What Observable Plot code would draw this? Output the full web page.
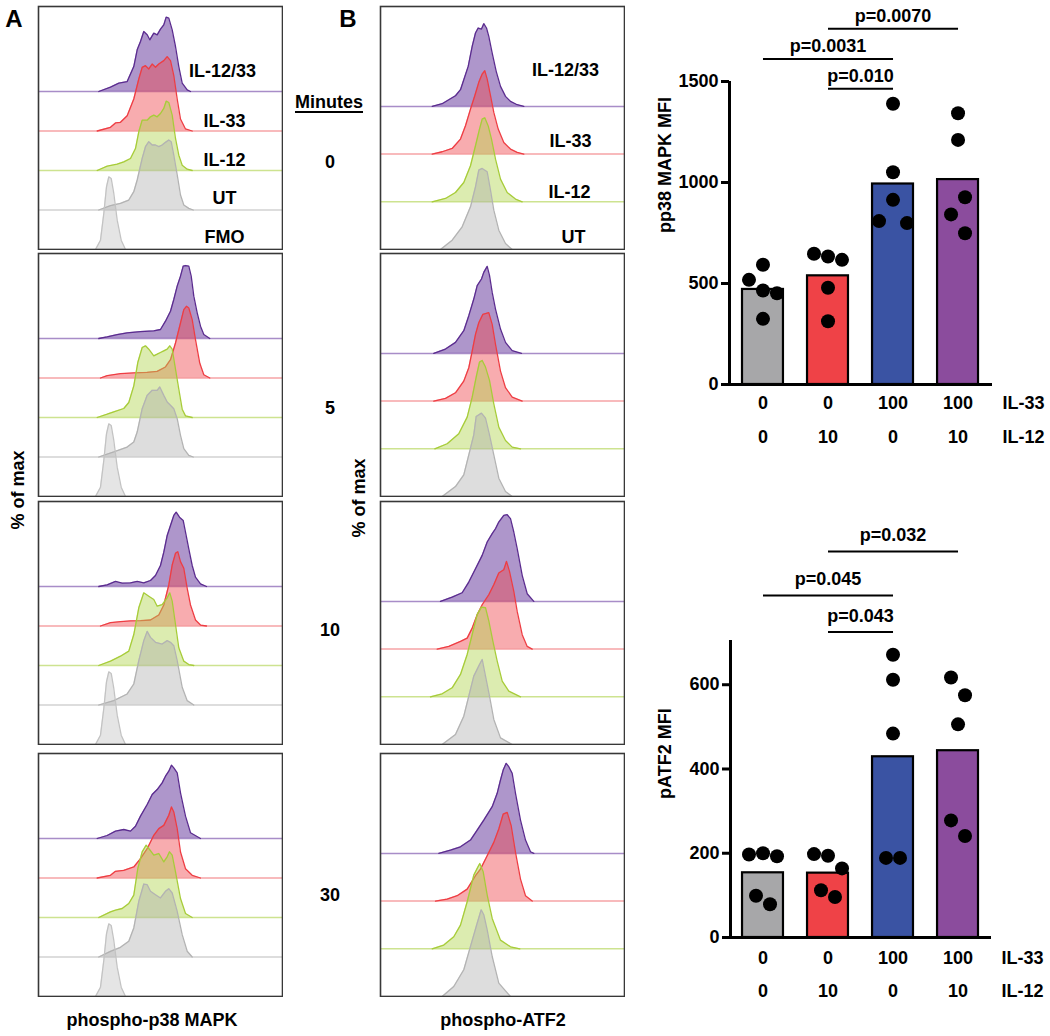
<!DOCTYPE html>
<html><head><meta charset="utf-8">
<script src="https://cdn.jsdelivr.net/npm/d3@7"></script>
<script src="https://cdn.jsdelivr.net/npm/@observablehq/plot@0.6"></script>
<style>
body{margin:0;background:#fff;}
#fig{position:relative;width:1050px;height:1036px;font-family:"Liberation Sans",Arial,sans-serif;font-weight:bold;color:#000;overflow:hidden;background:#fff}
#fig svg{position:absolute}
.lbl{position:absolute;font-size:18px;line-height:1;white-space:nowrap;transform:translate(-50%,-50%)}
.barplot g[aria-label^="y-axis"] path,.barplot g[aria-label^="y-axis"] line{stroke-width:3px}
</style></head><body><div id="fig"></div><script>
// ---------- Histogram data: [channel, % of max] ----------
const fmo = [[57,0],[62,12.4],[65.3,48],[68,83.6],[70.3,96.9],[72.7,94.7],[75.3,74.7],[78.7,39.1],[82.7,12.4],[87,0]];
// phospho-p38 MAPK, 0 min
const a0_il1233 = [[60.3,0],[72,5.8],[80.3,11.1],[88.7,13.3],[95.3,33.3],[98.7,55.6],[102,66.7],[105.3,80],[108.7,75.6],[111.3,68.9],[115.3,77.8],[118.7,75.6],[122,83.1],[125.3,88.9],[127.7,99.1],[130.3,97.8],[133.7,82.2],[137,60],[140.3,33.3],[143.7,11.1],[148.7,2.2],[152,0]];
const a0_il33 = [[58.7,0],[72,4.9],[77,10.7],[82,11.6],[88.7,20.4],[95.3,42.7],[100.3,69.3],[103.7,84.9],[107,87.1],[110.3,82.7],[113.7,89.3],[117,84.9],[120.3,89.3],[125.3,93.8],[128.7,99.1],[132,93.8],[135.3,73.8],[138.7,42.7],[142,16],[147,2.7],[153.7,0]];
const a0_il12 = [[58.7,0],[68.7,5.8],[78.7,8.4],[85.3,11.6],[92,16],[97,29.3],[100.3,51.6],[103.7,67.1],[108.7,67.1],[112,71.6],[115.3,73.8],[118.7,71.6],[122,76],[125.3,82.7],[127.7,92.4],[130.3,90.7],[133.7,73.8],[137,42.7],[140.3,20.4],[143.7,7.1],[148.7,1.8],[153.7,0]];
const a0_ut = [[60.3,0],[72,5.8],[82,8.9],[90.3,13.3],[95.3,24.4],[98.7,40],[103.7,68.9],[107,84.4],[110.3,91.1],[113.7,86.7],[117,86.7],[120.3,84.4],[123.7,86.7],[127,90.2],[130.3,93.3],[132.7,91.1],[135.3,73.3],[138.7,46.7],[142,20],[145.3,6.7],[150.3,2.2],[154.7,0]];
// 5 min
const a5_il1233 = [[60.3,0],[68.7,2.2],[78.7,5.3],[88.7,7.6],[102,9.3],[115.3,10.2],[122,12],[127,23.1],[132,36.4],[135.3,52],[138.7,69.8],[142,83.1],[144.7,96.4],[147,97.3],[150.3,96.4],[152.7,83.1],[155.3,56.4],[158.7,34.2],[162,16.4],[165.3,5.3],[171.3,0]];
const a5_il33 = [[62,0],[68.7,3.1],[82,5.8],[95.3,6.7],[108.7,7.6],[118.7,8.9],[127,14.7],[132,24.4],[137,46.7],[142,73.3],[145.3,91.1],[148,95.6],[150.3,93.3],[153.7,77.8],[157,51.1],[161.3,19.6],[165.3,4.4],[171.3,0]];
const a5_il12 = [[58.7,0],[68.7,4.4],[75.3,7.6],[85.3,12],[90.3,20],[95.3,42.2],[99.3,73.3],[103.7,93.3],[107,95.6],[110.3,91.1],[115.3,82.2],[118.7,84.4],[122,86.7],[125.3,88.9],[128.7,91.1],[131.3,95.6],[133.7,91.1],[137,64.4],[140.3,37.8],[143.7,11.1],[147,2.2],[153.7,0]];
const a5_ut = [[60.3,0],[75.3,6.7],[88.7,13.3],[95.3,20],[98.7,33.3],[103.7,64.4],[108.7,82.2],[113.7,88.9],[118.7,88.9],[121.3,93.3],[125.3,82.2],[128.7,73.3],[132,68.9],[135.3,64.4],[138.7,51.1],[142,28.9],[145.3,11.1],[150.3,2.2],[154.7,0]];
// 10 min
const a10_il1233 = [[60.3,0],[68.7,2.2],[77,6.7],[83.7,4.4],[92,4.9],[98.7,6.7],[105.3,4.9],[112,8],[117,14.7],[122,28],[125.3,45.8],[128.7,68],[132,81.3],[135.3,94.7],[137.7,99.1],[141,92.4],[144.7,88],[147,72.4],[150.3,50.2],[153.7,28],[157,12.4],[162,3.6],[168,0]];
const a10_il33 = [[62,0],[72,4.4],[82,5.8],[92,6.7],[102,7.1],[112,8],[120.3,14.7],[125.3,28],[130.3,54.7],[133.7,81.3],[137,96.9],[139.3,99.1],[142,85.8],[145.3,76.9],[148.7,50.2],[152,28],[157,8],[162,1.3],[168,0]];
const a10_il12 = [[60.3,0],[72,5.8],[82,12.4],[90.3,19.1],[95.3,41.3],[100.3,76.9],[105.3,96.9],[110.3,92.4],[115.3,88],[118.7,79.1],[123.7,81.3],[128.7,90.2],[131.3,96.9],[133.7,85.8],[137,54.7],[140.3,23.6],[145.3,5.8],[150.3,1.3],[155.3,0]];
const a10_ut = [[60.3,0],[75.3,5.8],[88.7,14.7],[95.3,28],[100.3,59.1],[105.3,85.8],[108.7,98.2],[112,90.2],[117,83.6],[123.7,81.3],[128.7,85.8],[132,83.6],[135.3,79.1],[138.7,59.1],[143.7,23.6],[148.7,5.8],[155.3,0]];
// 30 min
const a30_il1233 = [[58.7,0],[68.7,4],[77,9.8],[85.3,12],[92,9.8],[97,16.4],[102,29.8],[108.7,45.3],[113.7,58.7],[118.7,65.3],[123.7,74.2],[127,83.1],[130.3,89.8],[133,97.8],[135.3,94.2],[138.7,87.6],[142,60.9],[147,29.8],[152,7.6],[162,0]];
const a30_il33 = [[58.7,0],[72,3.6],[77,8.9],[85.3,10.2],[95.3,14.7],[102,25.8],[108.7,39.1],[115.3,56.9],[120.3,65.8],[125.3,70.2],[130.3,83.6],[133,94.7],[135.3,88],[138.7,65.8],[142,34.7],[147,12.4],[153.7,3.6],[162,0]];
const a30_il12 = [[60.3,0],[72,7.6],[77,9.8],[83.7,12],[90.3,18.7],[95.3,29.8],[99.3,65.3],[103.7,87.6],[107.7,96.4],[110.3,92],[115.3,83.1],[120.3,85.3],[125.3,74.2],[128.7,80.9],[131,87.6],[133.7,83.1],[137,60.9],[142,25.3],[147,5.3],[153.7,0]];
const a30_ut = [[60.3,0],[72,7.6],[82,12.9],[90.3,20.9],[95.3,38.7],[100.3,74.2],[105.3,97.3],[108.7,96.4],[112,87.6],[117,83.1],[122,78.7],[127,87.6],[130.3,91.1],[133.7,85.3],[138.7,60.9],[143.7,29.8],[148.7,7.6],[153.7,0]];
// phospho-ATF2, 0 min
const b0_il1233 = [[51.7,0],[61.7,3.2],[68.3,7.9],[75,12.7],[80,19.9],[83.3,31.8],[87.7,47.6],[91.7,71.5],[95,87.4],[97.7,93.3],[101,92.1],[103.3,98.5],[106,93.3],[108.3,83.4],[111.7,63.5],[115.7,41.7],[120,23.8],[125,11.9],[130,6],[136.7,2],[143.3,0]];
const b0_il33 = [[51.7,0],[61.7,2.8],[71.7,6.7],[80,17.9],[85,33.7],[90,53.6],[94.3,69.5],[98.3,85.4],[101.7,95.3],[104.3,99.2],[106.7,89.3],[110,69.5],[113.3,49.6],[117.7,29.8],[123.3,13.9],[130,6],[136.7,2],[143.3,0]];
const b0_il12 = [[51.7,0],[65,4],[75,11.1],[83.3,23],[90,42.9],[95,66.7],[99,86.5],[101.7,98.5],[104.3,100],[107.7,90.3],[111,74.6],[115,50.8],[120,27],[126.7,11.1],[135,3.2],[141.7,0]];
const b0_ut = [[60,0],[71.7,11.1],[81.7,27],[90,50.8],[95,74.6],[98.3,94.5],[101.7,96.5],[106.7,92.5],[110,70.7],[113.3,46.8],[118.3,23],[125,7.1],[131.7,0]];
// 5 min
const b5_il1233 = [[53.3,0],[65,5.2],[75,13.1],[83.3,27],[88.3,44.9],[93.3,64.7],[96.7,80.6],[101,88.6],[103.3,96.5],[106.7,103.6],[109,92.9],[111.7,72.6],[115,52.8],[120,29],[125,13.1],[131.7,3.2],[141,0]];
const b5_il33 = [[53.3,0],[65,3.2],[75,9.9],[83.3,23.8],[88.3,39.7],[91.7,59.6],[95,79.4],[98.3,93.3],[102.3,103.2],[108.3,105.2],[111.7,91.3],[115,67.5],[120,35.7],[125,15.9],[131.7,4.8],[141.7,0]];
const b5_il12 = [[54.3,0],[66.7,6],[78.3,17.9],[86.7,37.7],[91.7,61.5],[95.7,85.4],[99,103.2],[101.7,105.2],[105,97.3],[109,81.4],[113.3,53.6],[118.3,25.8],[125,9.9],[131.7,2],[140,0]];
const b5_ut = [[61.7,0],[75,11.9],[83.3,25.8],[90,57.6],[93.3,73.4],[95.7,95.3],[101,99.2],[105,93.3],[109,73.4],[113.3,49.6],[118.3,21.8],[125,6],[131.7,0]];
// 10 min
const b10_il1233 = [[60,0],[71.7,5.2],[81.7,10.3],[88.3,23],[95,38.9],[101.7,54.8],[106.7,70.7],[111.7,80.6],[115,86.5],[118.3,94.5],[123.3,102.4],[126.7,103.2],[130,98.5],[133.3,82.6],[136.7,62.7],[141.7,31],[146.7,9.1],[153.3,0]];
const b10_il33 = [[56.7,0],[68.3,3.2],[80,9.1],[86.7,13.1],[91.7,25],[96.7,40.9],[101.7,52.8],[108.3,64.7],[113.3,76.6],[118.3,90.5],[123.3,94.5],[126,104.4],[129,92.5],[133.3,68.7],[136.7,44.9],[141.7,17.1],[146.7,3.2],[151.7,0]];
const b10_il12 = [[50,0],[61.7,3.6],[71.7,10.7],[80,26.6],[86.7,50.4],[91.7,74.2],[96.7,98.1],[101,106.8],[105,106],[108.3,90.3],[112.3,66.5],[116.7,42.5],[121.7,18.7],[128.3,6.7],[140,0]];
const b10_ut = [[61.7,0],[75,11.9],[83.3,33.7],[88.3,57.6],[93.3,81.4],[99,95.3],[101.7,101.2],[105,81.4],[109,57.6],[113.3,29.8],[120,7.9],[131.7,0]];
// 30 min
const b30_il1233 = [[58.3,0],[70,4],[80,7.9],[90,15.9],[96.7,27.8],[103.3,39.7],[111.7,55.6],[116.7,71.5],[120,87.4],[122.7,99.2],[125.7,107.2],[128.3,103.2],[131.7,95.3],[135,71.5],[140,39.7],[145,15.9],[150,2],[153.3,0]];
const b30_il33 = [[55,0],[66.7,2.4],[76.7,6.4],[86.7,14.3],[95,30.2],[100,38.1],[106.7,54],[113.3,69.9],[118.3,85.8],[122.7,103.6],[126.7,105.6],[130.7,89.7],[135,57.9],[140,26.2],[145,6.4],[151.7,0]];
const b30_il12 = [[51.7,0],[63.3,4.4],[73.3,14.3],[80,28.2],[86.7,56],[93.3,87.7],[96.7,95.7],[99.3,101.6],[102.7,91.7],[106.7,63.9],[111.7,36.1],[120,10.3],[130,2.4],[139.3,0]];
const b30_ut = [[61.7,0],[73.3,11.9],[83.3,31.8],[90,59.6],[96.7,87.4],[100.7,103.2],[103.3,97.3],[106.7,79.4],[111.7,47.6],[118.3,15.9],[130,0]];

const minutes = ["0", "5", "10", "30"];
const histLabelsA = ["IL-12/33", "IL-33", "IL-12", "UT", "FMO"];
const histLabelsB = ["IL-12/33", "IL-33", "IL-12", "UT"];

// ---------- Bar chart data ----------
const groupIdx = [0, 1, 2, 3];
const treatments = ["UT", "IL-12", "IL-33", "IL-12/33"];
const il33Dose = ["0", "0", "100", "100"];
const il12Dose = ["0", "10", "0", "10"];
const barColors = ["#a7a7a9", "#ef4247", "#3a53a3", "#8b4c9d"];
const p38_UT = [593, 518, 465, 452, 325];
const p38_IL12 = [634, 647, 617, 479, 313];
const p38_IL33 = [1390, 1051, 914, 809, 799];
const p38_IL1233 = [1343, 1211, 927, 842, 749];
const atf2_UT = [200, 197, 193, 79, 99];
const atf2_IL12 = [194, 198, 164, 96, 112];
const atf2_IL33 = [671, 612, 484, 189, 189];
const atf2_IL1233 = [575, 617, 506, 241, 278];
const p38PFrom = [1, 0, 1], p38PTo = [3, 2, 2], p38PY = [1761, 1612, 1464];
const p38PLabel = ["p=0.0070", "p=0.0031", "p=0.010"];
const atfPFrom = [1, 0, 1], atfPTo = [3, 2, 2], atfPY = [916, 812, 725];
const atfPLabel = ["p=0.032", "p=0.045", "p=0.043"];

// ---------- helpers ----------
const fig = document.getElementById("fig");
const FONT = "'Liberation Sans', Arial, sans-serif";
function place(el, left, top) { el.style.position = "absolute"; el.style.left = left + "px"; el.style.top = top + "px"; fig.appendChild(el); return el; }
function label(text, x, y, o = {}) {
  const d = document.createElement("div");
  d.className = "lbl"; d.textContent = text;
  if (o.size) d.style.fontSize = o.size + "px";
  if (o.rotate) d.style.transform = "translate(-50%,-50%) rotate(-90deg)";
  if (o.underline) { d.style.textDecoration = "underline"; d.style.textDecorationThickness = "2px"; d.style.textUnderlineOffset = "3px"; }
  place(d, x, y);
}

const PURPLE = {line: "#5b2c8f", fill: "#6b3fa0", op: 0.55, base: "#a88dc8"};
const RED = {line: "#ee3d43", fill: "#f0474d", op: 0.45, base: "#f6a3a6"};
const GREEN = {line: "#a7cc39", fill: "#b2d44f", op: 0.45, base: "#cde390"};
const GREY = {line: "#b3b3b3", fill: "#a9a9a9", op: 0.4, base: "#d2d2d2"};
const GREY2 = {line: "#c3c3c3", fill: "#b0b0b0", op: 0.33, base: "#d8d8d8"};

function histPlot(curves, pal, step, k, labels, lx, loff) {
  const n = curves.length;
  const marks = [];
  // upper histograms first, lower ones drawn over them
  for (let j = 0; j < n; j++) {
    const base = (n - 1 - j) * step;
    const pts = curves[j].map(([x, h]) => ({x, h}));
    const c = pal[j];
    marks.push(Plot.ruleY([base], {stroke: c.base, strokeWidth: 1.5}));
    marks.push(Plot.areaY(pts, {x: "x", y1: () => base, y2: d => base + d.h * k, fill: c.fill, fillOpacity: c.op}));
    marks.push(Plot.lineY(pts, {x: "x", y: d => base + d.h * k, stroke: c.line, strokeWidth: 1.3}));
  }
  if (labels) {
    marks.push(Plot.text(labels, {
      x: (d, i) => lx[i], y: (d, i) => (n - 1 - i) * step + loff[i], text: d => d,
      fontSize: 18, fontWeight: "bold", fill: "black"
    }));
  }
  marks.push(Plot.frame({stroke: "#383838", strokeWidth: 1.6}));
  return Plot.plot({
    width: 246, height: 245, margin: 1,
    x: {domain: [0, 244], axis: null}, y: {domain: [0, 243], axis: null},
    style: {background: "transparent", fontFamily: FONT},
    marks
  });
}

const tops = [5, 252, 500, 752];
const panelA = [
  [a0_il1233, a0_il33, a0_il12, a0_ut, fmo],
  [a5_il1233, a5_il33, a5_il12, a5_ut, fmo],
  [a10_il1233, a10_il33, a10_il12, a10_ut, fmo],
  [a30_il1233, a30_il33, a30_il12, a30_ut, fmo]
];
const panelB = [
  [b0_il1233, b0_il33, b0_il12, b0_ut],
  [b5_il1233, b5_il33, b5_il12, b5_ut],
  [b10_il1233, b10_il33, b10_il12, b10_ut],
  [b30_il1233, b30_il33, b30_il12, b30_ut]
];
panelA.forEach((curves, t) => {
  const svg = histPlot(curves, [PURPLE, RED, GREEN, GREY, GREY2], 39.5, 0.75,
    t === 0 ? histLabelsA : null, [184, 186, 186, 186, 186], [20, 10, 10, 12, 12]);
  place(svg, 37, tops[t]);
});
panelB.forEach((curves, t) => {
  const svg = histPlot(curves, [PURPLE, RED, GREEN, GREY], 47.7, 0.84,
    t === 0 ? histLabelsB : null, [185, 190, 189, 193], [36, 13, 10, 12]);
  place(svg, 379, tops[t]);
});

// ---------- beeswarm lanes ----------
function laneAssign(vals, ppu) {
  const T = 24, Tc = 20;
  const lanes = [];
  vals.forEach((v, i) => {
    for (const L of [0, -1, 1, -2, 2]) {
      if (!vals.slice(0, i).some((u, j) => lanes[j] === L && Math.abs(u - v) * ppu < T)) { lanes[i] = L; break; }
    }
  });
  const order = d3.range(vals.length).sort((a, b) => vals[b] - vals[a]);
  let cluster = [order[0]];
  const flush = () => {
    const ls = cluster.map(i => lanes[i]);
    const sh = -(d3.min(ls) + d3.max(ls)) / 2;
    cluster.forEach(i => lanes[i] += sh);
  };
  for (let q = 1; q < order.length; q++) {
    if ((vals[order[q - 1]] - vals[order[q]]) * ppu < Tc) cluster.push(order[q]);
    else { flush(); cluster = [order[q]]; }
  }
  flush();
  return lanes;
}

function barChart(cfg) {
  const W = 430;
  const ppu = (cfg.height - cfg.mt - cfg.mb) / cfg.yMax;
  const bars = groupIdx.map(i => ({i, t: treatments[i], m: d3.mean(cfg.vals[i])}));
  const pts = [];
  groupIdx.forEach(i => {
    const lanes = laneAssign(cfg.vals[i], ppu);
    cfg.vals[i].forEach((v, q) => pts.push({i, v, lane: lanes[q]}));
  });
  const laneVals = Array.from(new Set(pts.map(d => d.lane)));
  const br = cfg.pFrom.map((f, q) => ({f, t: cfg.pTo[q], y: cfg.pY[q], label: cfg.pLabel[q]}));
  const halfW = 0.315;
  const txt = {fontSize: 18, fontWeight: "bold", fill: "black"};
  const marks = [
    Plot.rectY(bars, {x1: d => d.i - halfW, x2: d => d.i + halfW, y1: () => 0, y2: "m", fill: "t", stroke: "black", strokeWidth: 2.2}),
    ...laneVals.map(L => Plot.dot(pts.filter(d => d.lane === L), {x: "i", y: "v", r: 7, fill: "black", dx: L * 14})),
    Plot.ruleY([0], {strokeWidth: 3}),
    Plot.ruleX([cfg.xDom[0]], {y1: () => 0, y2: () => cfg.yMax, strokeWidth: 3}),
    Plot.link(br, {x1: "f", x2: "t", y1: "y", y2: "y", strokeWidth: 2}),
    Plot.text(br, {x: d => (d.f + d.t) / 2, y: "y", text: "label", dy: cfg.pDy, ...txt}),
    Plot.text(groupIdx, {x: d => d, y: () => 0, text: d => il33Dose[d], dy: cfg.row1, ...txt}),
    Plot.text(groupIdx, {x: d => d, y: () => 0, text: d => il12Dose[d], dy: cfg.row2, ...txt}),
    Plot.text(["IL-33"], {x: () => cfg.xDom[1], y: () => 0, text: d => d, dx: 31, dy: cfg.row1, ...txt}),
    Plot.text(["IL-12"], {x: () => cfg.xDom[1], y: () => 0, text: d => d, dx: 31, dy: cfg.row2, ...txt}),
    Plot.text([cfg.ylabel], {frameAnchor: "left", text: d => d, rotate: -90, dx: cfg.ylDx, dy: cfg.ylDy, ...txt})
  ];
  const svg = Plot.plot({
    width: W, height: cfg.height,
    marginLeft: cfg.ml, marginRight: cfg.mr, marginTop: cfg.mt, marginBottom: cfg.mb,
    x: {domain: cfg.xDom, axis: null},
    y: {domain: [0, cfg.yMax], ticks: cfg.yTicks, tickFormat: "d", tickSize: 8, tickPadding: 3, label: null},
    color: {domain: treatments, range: barColors},
    style: {background: "transparent", fontFamily: FONT, fontSize: "18px", fontWeight: "bold", color: "black"},
    marks
  });
  svg.classList.add("barplot");
  return svg;
}

place(barChart({
  vals: [p38_UT, p38_IL12, p38_IL33, p38_IL1233], yMax: 1500, yTicks: [0, 500, 1000, 1500],
  height: 450, mt: 81, mb: 66, ml: 109, mr: 58, xDom: [-0.515, 3.53],
  pFrom: p38PFrom, pTo: p38PTo, pY: p38PY, pLabel: p38PLabel, pDy: -13,
  row1: 19, row2: 53, ylabel: "pp38 MAPK MFI", ylDx: -64, ylDy: 0
}), 620, 0);
place(barChart({
  vals: [atf2_UT, atf2_IL12, atf2_IL33, atf2_IL1233], yMax: 705, yTicks: [0, 200, 400, 600],
  height: 536, mt: 140, mb: 99, ml: 110, mr: 59, xDom: [-0.5, 3.515],
  pFrom: atfPFrom, pTo: atfPTo, pY: atfPY, pLabel: atfPLabel, pDy: -16,
  row1: 21, row2: 54, ylabel: "pATF2 MFI", ylDx: -65, ylDy: 10
}), 620, 500);

// ---------- text annotations ----------
label("A", 14, 19, {size: 24});
label("B", 348, 19, {size: 24});
label("Minutes", 329, 102, {underline: true});
const minuteY = [162, 408, 630, 895];
minutes.forEach((m, i) => label(m, 330, minuteY[i]));
label("% of max", 18, 490, {rotate: true});
label("% of max", 359, 498, {rotate: true});
label("phospho-p38 MAPK", 152, 1020);
label("phospho-ATF2", 503, 1020);
</script></body></html>
